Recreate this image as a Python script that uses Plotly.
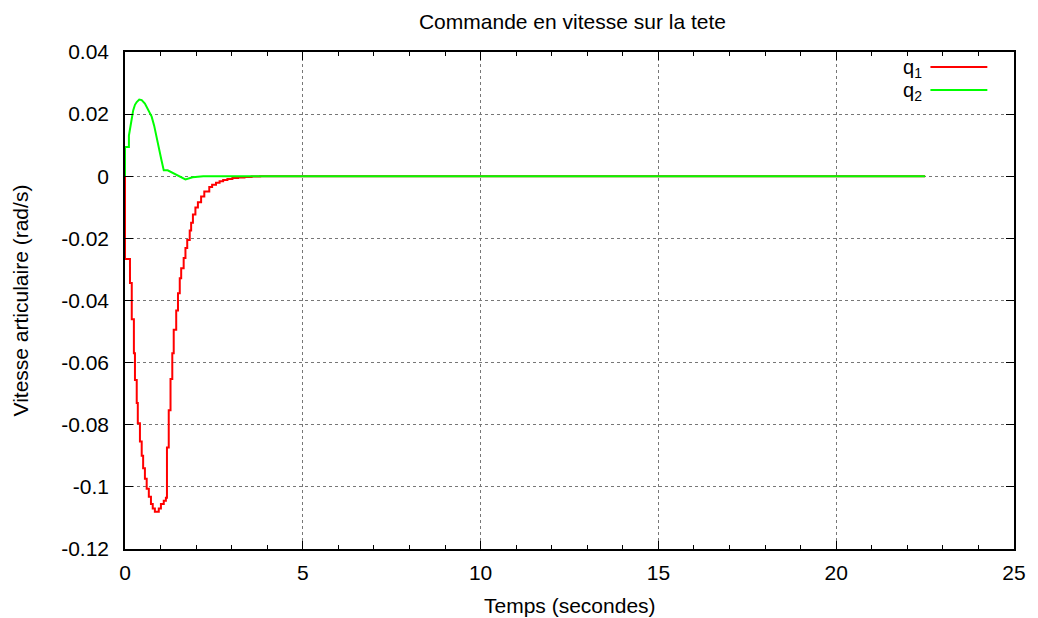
import plotly.graph_objects as go

# Joint velocity commands (rad/s) versus time (s)
t_q1 = [0, 0, 0.14, 0.19, 0.25, 0.28, 0.33, 0.36, 0.42, 0.47, 0.51, 0.56, 0.61, 0.67,
        0.73, 0.78, 0.84, 0.95, 1.01, 1.09, 1.15, 1.18, 1.23, 1.28, 1.33, 1.37, 1.44,
        1.49, 1.54, 1.58, 1.65, 1.70, 1.75, 1.82, 1.86, 1.91, 1.98, 2.05, 2.14, 2.23,
        2.37, 2.45, 2.56, 2.66, 2.76, 2.88, 3.02, 3.18, 3.36, 3.56, 3.8, 22.5]
v_q1 = [0, -0.0266, -0.0344, -0.046, -0.057, -0.0656, -0.073, -0.0795, -0.0854, -0.090,
        -0.094, -0.0974, -0.1006, -0.1032, -0.1055, -0.107, -0.108, -0.107, -0.1055,
        -0.1045, -0.1035, -0.0873, -0.0753, -0.0653, -0.057, -0.0494, -0.0432, -0.0377,
        -0.0328, -0.0296, -0.0263, -0.0231, -0.0205, -0.0175, -0.015, -0.0123, -0.0101,
        -0.0084, -0.0065, -0.0049, -0.0035, -0.0027, -0.0021, -0.0016, -0.0012,
        -0.0009, -0.0006, -0.0004, -0.00025, -0.00012, 0, 0]

t_q2 = [0, 0, 0.11, 0.11, 0.19, 0.23, 0.28, 0.33, 0.40, 0.47, 0.56, 0.65, 0.75, 0.82,
        0.88, 0.96, 1.02, 1.09, 1.20, 1.70, 1.90, 2.2, 22.5]
v_q2 = [0, 0.0094, 0.0094, 0.0131, 0.0185, 0.0212, 0.023, 0.0239, 0.0247, 0.0245,
        0.0234, 0.0212, 0.0192, 0.0163, 0.0127, 0.0088, 0.0055, 0.0019, 0.0019,
        -0.001, -0.0003, 0, 0]

x_ticks = [0, 5, 10, 15, 20, 25]
y_ticks = [0.04, 0.02, 0, -0.02, -0.04, -0.06, -0.08, -0.1, -0.12]
y_tick_text = ["0.04", "0.02", "0", "-0.02", "-0.04", "-0.06", "-0.08", "-0.1", "-0.12"]

series = [("q<sub>1</sub>", t_q1, v_q1, "#ff0000", "hv"),
          ("q<sub>2</sub>", t_q2, v_q2, "#00ff00", "linear")]

FONT = "Liberation Sans, Arial, Helvetica, sans-serif"
FS = 21

fig = go.Figure()
for name, t, v, color, shape in series:
    fig.add_trace(go.Scatter(x=t, y=v, mode="lines", name=name,
                             line=dict(color=color, width=2, shape=shape),
                             showlegend=False))

axis_common = dict(
    showline=True, linecolor="black", linewidth=1.5, mirror="ticks",
    ticks="inside", ticklen=8, tickcolor="black", tickwidth=1,
    showgrid=True, gridcolor="#777777", griddash="dot", gridwidth=1,
    zeroline=False, tickfont=dict(family=FONT, size=FS, color="black"),
)

fig.update_xaxes(range=[0, 25], tickvals=x_ticks, ticktext=[str(v) for v in x_ticks],
                 ticklabelstandoff=4,
                 minor=dict(dtick=1, ticks="inside", ticklen=4, tickcolor="black",
                            showgrid=False),
                 **axis_common)
fig.update_yaxes(range=[-0.12, 0.04], tickvals=y_ticks, ticktext=y_tick_text,
                 ticklabelstandoff=10, **axis_common)

# Axis titles
fig.add_annotation(x=0.5, y=-0.113, xref="paper", yref="paper", text="Temps (secondes)",
                   showarrow=False, xanchor="center", yanchor="middle",
                   font=dict(family=FONT, size=FS, color="black"))
fig.add_annotation(x=-0.117, y=0.5, xref="paper", yref="paper",
                   text="Vitesse articulaire (rad/s)", textangle=-90,
                   showarrow=False, xanchor="center", yanchor="middle",
                   font=dict(family=FONT, size=FS, color="black"))

# Legend in the upper right: label followed by a line sample
legend_rows = [(0.970, series[0]), (0.9235, series[1])]
for ypos, (name, _, _, color, _) in legend_rows:
    fig.add_annotation(x=0.899, y=ypos - 0.003, xref="paper", yref="paper", text=name,
                       showarrow=False, xanchor="right", yanchor="middle",
                       font=dict(family=FONT, size=20, color="black"))
    fig.add_shape(type="line", xref="paper", yref="paper",
                  x0=0.906, x1=0.97, y0=ypos, y1=ypos,
                  line=dict(color=color, width=2))

fig.update_layout(
    width=1038, height=618,
    margin=dict(l=125, r=18, t=52, b=69),
    paper_bgcolor="white", plot_bgcolor="white",
    title=dict(text="Commande en vitesse sur la tete", x=0.5515, xanchor="center",
               y=0.965, yanchor="middle",
               font=dict(family=FONT, size=FS, color="black")),
)

fig.write_html("out.html")
